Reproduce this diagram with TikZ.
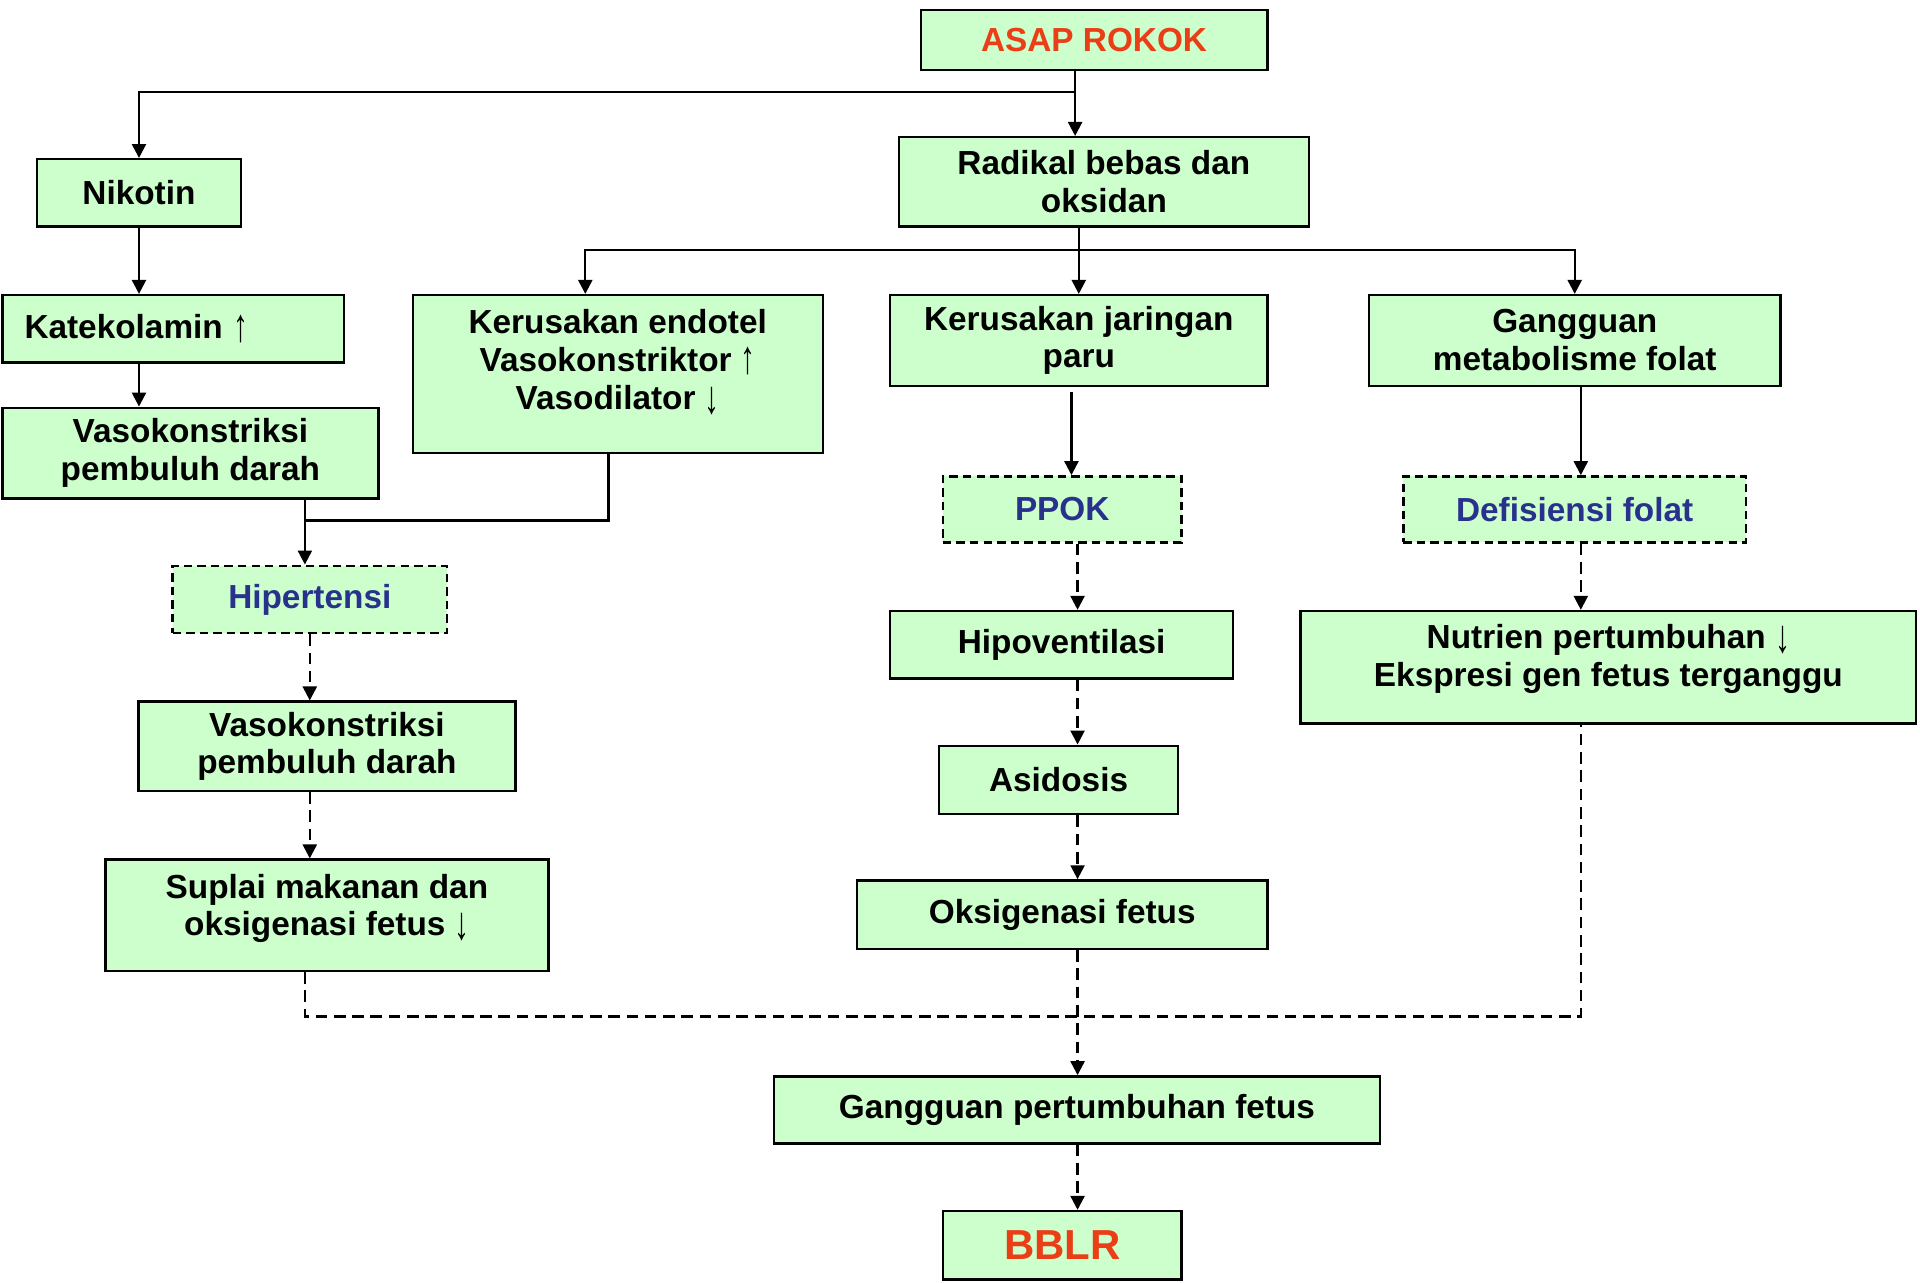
\documentclass[tikz,border=0pt]{standalone}
\usepackage{fontspec}
\setmainfont{Liberation Sans}
\usetikzlibrary{arrows.meta}
\definecolor{boxgreen}{RGB}{204,255,204}
\definecolor{asapred}{RGB}{234,62,22}
\definecolor{ppokblue}{RGB}{40,50,140}
\newcommand\uparr{\raisebox{-0.08em}{\scalebox{0.9}[1.4]{↑}}}
\newcommand\downarr{\raisebox{-0.12em}{\scalebox{0.9}[1.4]{↓}}}
\tikzset{
	box/.style 2 args={draw, line width=1.1pt, fill=boxgreen, inner sep=0pt, align=center,
		minimum width=#1, minimum height=#2, font=\bfseries\fontsize{15.5}{17.6}\selectfont},
	dbox/.style 2 args={box={#1}{#2}, dash pattern=on 3.9pt off 2.4pt, text=ppokblue},
	liftup/.style={text depth=#1},
	line/.style={line width=1.1pt},
	arr/.style={line, -{Triangle[width=6.5pt,length=6.5pt]}},
	dline/.style={line, dash pattern=on 5.4pt off 3.1pt},
	darr/.style={dline, -{Triangle[width=6.5pt,length=6.5pt]}}
}
\begin{document}
\begin{tikzpicture}[x=0.02cm, y=-0.02cm]
			%%%%% START %%%%%
			\useasboundingbox (0,0) rectangle (1568,1047);
			
			\node[box={5.66cm}{0.98cm}, text=asapred] (asap) at (893.5,32.5) {ASAP ROKOK};
			\node[box={3.34cm}{1.10cm}] (nikotin) at (113.5,157.5) {Nikotin};
			\node[box={6.70cm}{1.46cm}] (radikal) at (901.5,148.5) {Radikal bebas dan\\oksidan};
			
			\node[box={5.58cm}{1.10cm}, align=left, text width=4.86cm, inner xsep=0.36cm] (kateko) at (141.5,268.5) {Katekolamin \uparr};
			\node[box={6.70cm}{2.58cm}, liftup=0.49cm] (endotel) at (504.5,305.5) {Kerusakan endotel\\Vasokonstriktor \uparr\\Vasodilator \downarr};
			\node[box={6.16cm}{1.48cm}] (jaringan) at (881,278) {Kerusakan jaringan\\paru};
			\node[box={6.72cm}{1.48cm}] (folat) at (1286,278) {Gangguan\\metabolisme folat};
			\node[box={6.14cm}{1.48cm}] (vasoA) at (155.5,370) {Vasokonstriksi\\pembuluh darah};
			
			\node[dbox={3.90cm}{1.08cm}] (ppok) at (867.5,416) {PPOK};
			\node[dbox={5.60cm}{1.08cm}] (defis) at (1286,416) {Defisiensi folat};
			\node[dbox={4.48cm}{1.10cm}] (hiper) at (253,489.5) {Hipertensi};
			
			\node[box={5.60cm}{1.10cm}] (hipo) at (867,526.5) {Hipoventilasi};
			\node[box={10.06cm}{1.84cm}, liftup=0.38cm] (nutrien) at (1313.5,545) {Nutrien pertumbuhan \downarr\\Ekspresi gen fetus terganggu};
			\node[box={6.16cm}{1.46cm}] (vasoB) at (267,609.5) {Vasokonstriksi\\pembuluh darah};
			\node[box={3.90cm}{1.12cm}] (asid) at (864.5,637) {Asidosis};
			\node[box={7.24cm}{1.82cm}, liftup=0.34cm] (suplai) at (267,747.5) {Suplai makanan dan\\oksigenasi fetus \downarr};
			\node[box={6.70cm}{1.12cm}] (oksi) at (867.5,747) {Oksigenasi fetus};
			
			\node[box={9.90cm}{1.10cm}] (gpf) at (879.5,906.5) {Gangguan pertumbuhan fetus};
			\node[box={3.90cm}{1.12cm}, text=asapred, font=\bfseries\fontsize{19.5}{22}\selectfont] (bblr) at (867.5,1017) {BBLR};
			
			% solid connectors
			\coordinate (spl1) at (878,75);
			\draw[line] (asap.south -| spl1) -- (spl1);
			\draw[arr] (spl1) -| (nikotin.north);
			\draw[arr] (spl1) -- (spl1 |- radikal.north);
			\draw[arr] (nikotin.south) -- (nikotin.south |- kateko.north);
			\draw[arr] (nikotin.south |- kateko.south) -- (nikotin.south |- vasoA.north);
			
			\coordinate (spl2) at (881,204);
			\coordinate (kL) at (478,204);
			\draw[line] (radikal.south -| spl2) -- (spl2);
			\draw[arr] (spl2) -- (kL) -- (kL |- endotel.north);
			\draw[arr] (spl2) -- (spl2 |- jaringan.north);
			\draw[arr] (spl2) -| (folat.north);
			
			\coordinate (jL) at (249,425);
			\coordinate (jE) at (497,425);
			\draw[arr] (jL |- vasoA.south) -- (jL |- hiper.north);
			\draw[line] (jE |- endotel.south) -- (jE) -- (jL);
			
			\coordinate (colM) at (875,320);
			\coordinate (colR) at (1291,0);
			\draw[arr] (colM) -- (colM |- ppok.north);
			\draw[arr] (folat.south -| colR) -- (defis.north -| colR);
			
			% dashed connectors
			\coordinate (dL) at (253,0);
			\coordinate (dM) at (880,0);
			\draw[darr] (hiper.south -| dL) -- (vasoB.north -| dL);
			\draw[darr] (vasoB.south -| dL) -- (suplai.north -| dL);
			\draw[darr] (ppok.south -| dM) -- (hipo.north -| dM);
			\draw[darr] (hipo.south -| dM) -- (asid.north -| dM);
			\draw[darr] (asid.south -| dM) -- (oksi.north -| dM);
			\draw[darr] (oksi.south -| dM) -- (gpf.north -| dM);
			\draw[darr] (gpf.south -| dM) -- (bblr.north -| dM);
			\draw[darr] (defis.south -| colR) -- (nutrien.north -| colR);
			
			\coordinate (mL) at (249,830);
			\coordinate (mR) at (1291,830);
			\draw[dline] (suplai.south -| mL) -- (mL) -- (mR) -- (nutrien.south -| mR);
			
			%%%%% END %%%%%
\end{tikzpicture}
\end{document}
